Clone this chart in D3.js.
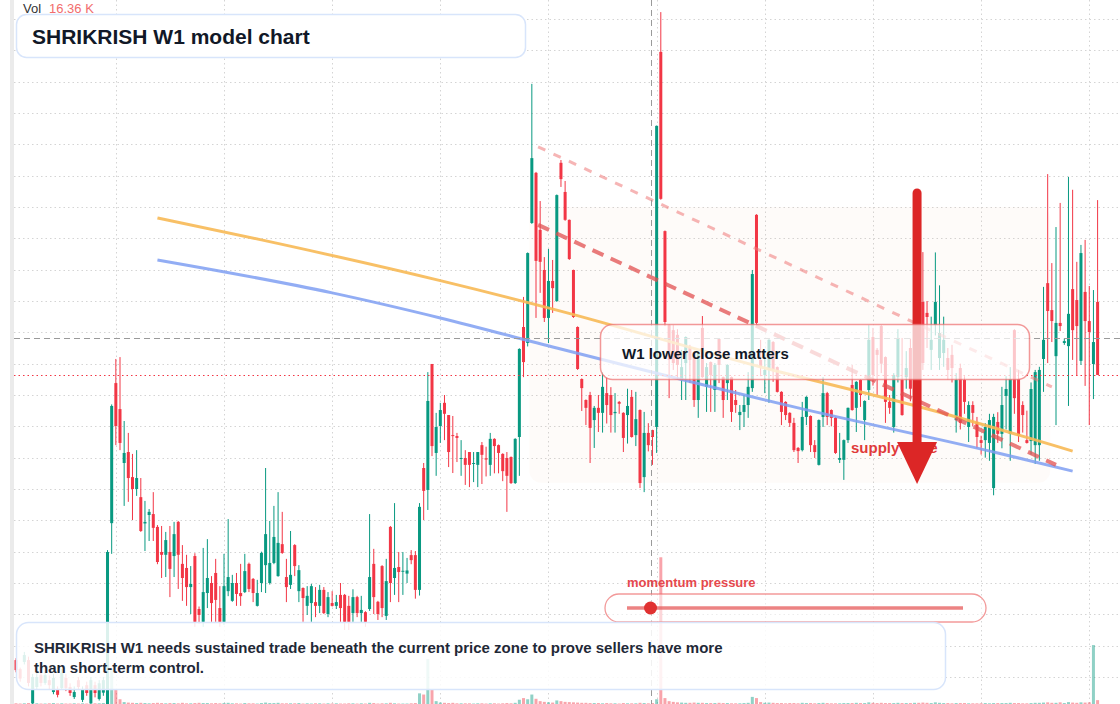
<!DOCTYPE html>
<html>
<head>
<meta charset="utf-8">
<script src="https://cdn.jsdelivr.net/npm/d3@7"></script>
<style>
  html, body { margin: 0; padding: 0; background: #ffffff; }
  svg { display: block; font-family: "Liberation Sans", Arial, sans-serif; }
</style>
</head>
<body>
<div id="chart"></div>
<script>
///////////////////////////// DATA (weekly candles, oldest first) /////////////////////////////

var opens = [25.4,22.5,24.8,25.4,11.7,16.8,20.6,18.1,19.0,15.2,15.9,16.5,19.7,16.8,13.6,19.0,12.7,17.4,11.7,17.4,13.0,15.0,
  10.0,69.1,113.8,105.5,88.3,91.8,83.8,80.0,77.4,69.0,71.7,72.0,67.9,59.9,59.0,59.9,58.6,69.5,56.1,54.8,48.7,58.6,41.7,
  37.6,46.8,50.0,53.2,42.0,37.6,47.4,44.3,50.0,46.8,47.1,56.1,51.3,42.7,50.0,55.7,50.0,56.4,52.2,62.4,51.9,49.4,62.1,47.4,
  48.4,42.7,43.6,43.9,42.7,47.8,40.1,43.6,42.7,46.2,46.2,42.7,40.4,45.5,40.4,40.7,41.7,56.1,44.0,55.4,39.5,67.9,51.6,55.1,
  53.6,53.0,58.9,58.9,47.8,86.7,79.7,119.9,91.5,100.1,107.5,103.6,97.2,96.9,89.6,89.9,91.8,88.0,87.7,94.0,89.8,87.7,96.0,
  94.0,91.2,89.9,90.2,81.9,96.6,131.7,126.6,164.9,180.9,162.7,149.9,134.6,146.4,140.0,184.1,174.8,165.9,149.9,131.7,115.1,
  108.4,110.0,102.0,105.9,104.3,110.6,110.0,104.2,107.8,104.3,103.6,109.4,97.2,105.2,83.8,97.9,98.8,99.8,219.5,162.3,132.3,
  130.7,129.2,114.8,120.2,125.3,123.4,108.4,131.4,112.6,120.5,111.6,127.9,115.7,113.8,115.7,108.4,103.6,104.6,106.8,112.2,
  167.5,121.2,116.4,118.0,126.9,118.9,111.0,107.8,104.3,101.1,93.1,92.4,103.0,103.3,94.0,87.7,103.0,110.6,105.2,102.7,89.3,
  89.3,95.6,113.2,105.9,114.8,102.0,111.6,128.5,124.4,132.0,122.1,107.8,99.8,115.7,114.8,115.7,125.0,112.0,130.0,139.7,
  136.2,124.4,132.3,121.8,123.4,121.8,122.8,102.0,118.6,114.8,99.8,106.8,101.4,95.6,95.6,94.7,80.3,101.4,97.6,109.7,97.6,
  130.7,115.1,106.8,95.6,95.3,94.0,94.0,121.5,145.7,137.1,122.4,133.0,126.6,125.6,143.8,140.3,120.9,142.9,133.6,119.9,139.7];

var highs = [26.0,23.0,28.0,26.5,21.0,21.5,22.0,22.0,20.5,21.0,17.0,22.5,21.0,18.0,17.0,20.0,17.0,18.5,20.0,18.5,19.0,20.0,
  60.5,107.0,121.5,122.1,101.7,97.9,91.2,92.4,83.5,76.2,73.6,79.0,68.5,68.2,66.3,68.2,69.5,69.8,62.1,59.0,55.4,59.5,42.5,
  61.2,64.0,52.2,57.7,49.0,59.3,70.4,52.6,53.2,56.1,59.3,56.5,51.6,51.0,60.0,86.7,69.8,74.6,79.0,72.7,57.7,66.6,62.4,55.7,
  48.6,49.0,49.7,48.7,49.4,48.7,47.1,47.4,46.2,50.0,46.5,45.9,48.0,45.9,45.9,41.0,72.0,60.9,44.3,55.7,57.7,68.2,75.5,59.9,
  59.9,58.0,60.5,60.2,75.5,88.3,117.3,119.9,104.3,107.5,110.0,103.6,103.3,97.9,95.6,92.4,91.8,91.8,91.8,95.0,93.5,97.9,96.2,
  94.2,91.4,91.8,90.4,96.2,124.9,141.3,155.5,209.3,181.2,171.9,154.0,156.6,153.1,174.0,185.0,178.3,166.0,150.0,131.9,115.3,
  108.6,111.0,106.5,110.0,117.3,115.7,112.5,110.6,108.1,104.5,112.0,111.6,111.0,105.4,104.6,101.0,98.9,196.0,232.2,162.5,132.5,
  132.3,131.0,124.4,128.7,126.0,123.6,123.6,135.2,120.2,120.7,120.2,128.1,115.9,119.8,115.9,111.6,106.8,110.0,117.3,149.9,
  167.7,127.6,124.4,127.8,127.2,119.1,111.2,108.0,104.5,102.7,93.4,107.8,109.6,103.5,95.6,102.2,115.7,111.0,105.4,103.0,97.9,
  95.8,106.0,119.6,114.4,115.0,108.3,132.3,131.4,125.0,132.3,122.3,110.0,117.0,131.0,128.2,124.0,128.0,133.0,140.0,155.6,
  140.0,135.0,155.5,145.0,135.0,125.0,126.0,117.0,120.0,116.0,108.0,108.0,103.0,97.0,101.0,104.0,104.0,104.5,112.6,116.0,118.9,
  131.0,118.0,108.0,105.0,114.0,118.0,119.0,144.5,180.5,152.1,163.6,171.3,128.0,179.6,175.5,152.5,157.9,159.5,144.8,143.5,172.2];

var lows = [21.5,18.5,24.0,17.0,11.0,16.0,17.0,17.5,16.0,14.5,13.5,16.0,15.5,14.0,13.0,16.0,12.0,14.0,11.4,13.5,12.5,14.0,
  9.5,59.3,94.0,92.4,74.6,75.9,70.1,77.8,66.3,60.2,63.4,63.4,56.0,51.6,51.9,45.5,51.9,48.1,44.3,42.7,40.1,36.0,37.0,
  36.0,42.0,37.6,37.6,36.0,36.6,45.8,44.0,42.7,42.7,46.8,47.1,43.9,42.5,47.1,46.8,49.5,56.0,52.0,59.3,43.9,48.1,52.2,43.9,
  37.6,39.8,37.6,39.1,40.4,40.1,39.1,42.5,41.7,37.6,35.0,35.0,37.6,39.1,37.6,36.0,41.1,40.1,38.2,39.1,38.2,43.9,46.2,43.9,
  46.2,50.0,56.0,45.0,46.0,70.1,73.3,90.5,84.2,94.7,95.6,87.0,85.1,88.6,84.2,81.3,80.6,82.2,80.6,81.6,84.0,84.2,85.0,
  85.0,82.5,72.7,81.6,81.6,84.2,115.7,125.5,164.6,134.6,142.6,133.3,126.6,136.2,139.7,176.4,165.6,153.1,134.6,118.0,104.9,
  100.4,88.3,93.1,98.2,98.0,100.9,98.0,98.0,104.0,91.8,94.5,96.4,93.7,80.3,79.0,92.0,87.7,91.5,172.3,132.0,109.0,
  118.0,115.0,108.4,108.4,113.8,106.2,102.7,115.5,104.6,104.6,104.6,113.8,102.7,108.4,101.4,104.3,98.8,99.8,102.7,111.0,
  132.3,116.0,110.6,107.5,114.2,110.8,100.4,102.0,99.8,91.8,88.3,92.0,100.4,91.8,89.9,87.5,99.8,100.4,100.0,91.2,88.3,
  82.9,94.7,105.0,98.2,106.2,95.6,108.4,113.0,110.0,117.0,101.1,104.0,98.0,114.0,103.4,112.0,108.0,108.0,110.0,118.0,
  125.0,118.0,129.0,118.0,119.0,115.0,114.0,98.0,99.0,104.0,95.0,100.0,93.0,91.0,90.0,89.0,78.0,94.7,93.0,99.0,89.0,
  104.0,95.0,98.0,94.5,91.0,88.0,89.0,111.0,120.2,126.9,100.4,130.4,126.0,106.5,121.2,116.1,119.6,112.9,100.4,108.7,116.4];

var closes = [22.2,19.5,27.0,18.1,20.0,20.0,18.1,20.6,17.4,19.7,14.3,21.3,16.5,14.9,15.2,16.8,15.9,14.9,19.0,14.9,18.0,19.0,
  59.9,106.5,100.1,94.7,91.5,83.5,80.0,83.5,66.6,69.5,72.7,67.6,56.7,59.0,63.7,54.5,65.6,59.0,51.6,48.7,49.7,37.6,39.8,
  47.1,51.6,43.6,44.6,37.6,49.0,51.9,50.0,46.5,45.8,53.8,48.1,46.8,46.8,59.6,65.6,56.4,64.7,62.8,59.6,48.7,52.6,55.4,54.1,
  45.2,45.9,49.0,42.7,47.8,40.4,45.5,42.7,43.9,42.0,37.6,37.6,45.5,40.4,41.4,37.6,51.9,45.5,40.1,42.0,50.6,50.0,54.8,53.5,
  53.9,54.0,57.3,47.8,74.3,79.4,108.1,93.7,99.8,105.2,104.0,91.8,96.9,96.3,89.9,87.7,87.7,88.3,91.8,90.9,89.4,96.0,93.7,
  91.5,85.7,84.2,81.9,96.0,124.7,120.5,155.3,185.6,152.8,152.5,134.6,146.4,144.1,173.8,178.9,165.9,153.4,134.9,118.3,112.2,
  105.9,99.5,105.9,104.3,112.6,106.8,103.6,104.6,107.2,96.3,106.5,96.6,102.3,81.9,97.9,94.0,96.6,195.9,172.6,133.3,121.2,
  120.2,119.6,118.9,128.5,121.2,108.4,123.4,115.7,118.9,116.4,119.6,119.6,108.4,119.6,104.6,106.8,104.6,106.8,112.6,148.6,
  133.0,118.9,118.0,127.6,118.0,111.0,104.6,103.6,101.1,92.4,92.1,103.0,109.4,94.0,91.8,102.0,110.6,103.0,102.7,91.5,89.9,
  95.6,105.9,105.2,114.2,110.0,108.1,127.6,116.4,122.8,120.0,107.8,105.9,116.4,128.2,103.6,118.6,112.0,125.0,118.0,120.2,
  134.9,127.6,139.7,129.8,127.6,118.0,118.6,114.8,101.1,107.8,106.8,104.3,96.6,94.7,99.8,102.0,103.0,97.6,106.8,111.9,115.1,
  109.0,96.9,103.6,94.7,111.9,117.3,118.0,127.6,136.8,133.6,133.0,132.0,127.2,135.9,130.7,132.0,155.3,133.6,130.1,126.9,116.4];

// volume in thousands of shares
var volumes = [3,2,3,4,5,3,2,2,3,4,2,3,2,2,3,2,3,2,4,3,3,4,
  210,150,60,20,
  8,6,5,4,5,4,3,4,5,4,3,4,4,3,5,3,3,4,5,4,
  4,3,4,3,4,5,3,3,2,4,3,3,2,4,6,4,4,5,3,3,3,3,4,2,3,2,3,3,2,3,2,3,2,2,3,3,2,3,2,5,4,2,3,3,5,3,2,2,2,3,4,
  45,40,190,
  60,12,6,5,4,5,3,3,3,3,2,3,3,2,3,3,2,3,4,3,5,
  18,25,20,40,
  22,12,9,7,6,15,12,9,8,7,6,5,5,4,4,4,3,4,3,3,2,4,3,3,3,5,4,3,4,
  20,620,
  25,12,9,7,6,5,5,6,5,5,4,4,4,5,4,4,3,3,3,4,
  5,30,25,
  8,5,6,5,4,4,3,4,4,3,5,4,4,3,4,5,4,3,3,3,4,4,
  4,5,4,4,7,5,4,5,4,4,4,5,4,4,4,5,5,6,5,4,7,5,4,4,3,4,4,4,3,3,
  3,3,4,3,4,4,4,4,5,4,4,3,3,4,5,5,6,7,5,5,7,4,8,6,5,7,6,7,
  249,16.36];

// model curves: [candle index, price]
var orangeModel = [[34,166.5],[59,159.5],[102,146.5],[130,137.1],[180,118.6],[220,105.2],[254,92.1]];
var blueModel = [[34,153.1],[76,142.6],[102,134.6],[130,125.0],[188,105.9],[236,91.5],[254,85.7]];

// dashed resistance lines: [candle index, price]
var upperTrend = [[125.5,189.2],[249,112.6]];
var lowerTrend = [[125.5,164.3],[250,87.7]];

// supply zone: [from index, to index, top price, bottom price]
var supplyZone = [123.4, 248.6, 170, 82];
// arrow: [index, start price, head price, tip price]
var supplyArrow = [216.6, 174.5, 95, 81.6];

var priceGrid = d3.range(20, 231, 10);
var timeGrid = [24, 50, 76, 102, 128, 154, 180, 206, 232, 258];
var crosshair = [153, 128.2];          // index, price
var momentumValue = 0.07;              // 0..1 position in the pressure gauge

var titleText = "SHRIKRISH W1 model chart";
var noteText = "W1 lower close matters";
var bottomLines = ["SHRIKRISH W1 needs sustained trade beneath the current price zone to prove sellers have more",
  "than short-term control."];

///////////////////////////// SETUP /////////////////////////////

var width = 1120, height = 704;
var upColor = "#089981", downColor = "#f23645";

var svg = d3.select("#chart").append("svg")
    .attr("width", width)
    .attr("height", height);

var n = opens.length;
var x = d3.scaleLinear().domain([0, n - 1]).range([16, 1097.6]);
var y = d3.scaleLinear().domain([20, 230]).range([677, 19]);
var v = d3.scaleLinear().domain([0, 600]).range([704, 562]);

var candles = d3.range(n).map(function(i) {
    return {i: i, o: opens[i], h: highs[i], l: lows[i], c: closes[i], vol: volumes[i]};
});

svg.append("rect").attr("width", width).attr("height", height).attr("fill", "#ffffff");

// left scale edge
svg.append("rect").attr("x", 10).attr("y", 0).attr("width", 4).attr("height", height).attr("fill", "#ebebeb");

///////////////////////////// GRID /////////////////////////////

var grid = svg.append("g").attr("class", "grid");
grid.selectAll("line.h").data(priceGrid).enter().append("line")
    .attr("class", "h")
    .attr("x1", 14).attr("x2", width)
    .attr("y1", function(d) { return Math.round(y(d)) + 0.5; })
    .attr("y2", function(d) { return Math.round(y(d)) + 0.5; })
    .attr("stroke", "#d4d4d4").attr("stroke-dasharray", "1.5,3");

grid.selectAll("line.v").data(timeGrid).enter().append("line")
    .attr("class", "v")
    .attr("x1", function(d) { return Math.round(x(d)) + 0.5; })
    .attr("x2", function(d) { return Math.round(x(d)) + 0.5; })
    .attr("y1", 0).attr("y2", height)
    .attr("stroke", "#d4d4d4").attr("stroke-dasharray", "1.5,3");

// supply zone shading
svg.append("rect")
    .attr("x", x(supplyZone[0]))
    .attr("width", x(supplyZone[1]) - x(supplyZone[0]))
    .attr("y", y(supplyZone[2]))
    .attr("height", y(supplyZone[3]) - y(supplyZone[2]))
    .attr("rx", 12)
    .attr("fill", "rgba(236,190,160,0.06)");

///////////////////////////// VOLUME /////////////////////////////

svg.append("g").selectAll("rect").data(candles).enter().append("rect")
    .attr("x", function(d) { return x(d.i) - 1.5; })
    .attr("width", 3)
    .attr("y", function(d) { return v(d.vol); })
    .attr("height", function(d) { return v(0) - v(d.vol); })
    .attr("fill", function(d) { return d.c >= d.o ? "rgba(8,153,129,0.45)" : "rgba(242,54,69,0.45)"; });

///////////////////////////// CANDLES /////////////////////////////

var cg = svg.append("g").attr("class", "candles");
cg.selectAll("line").data(candles).enter().append("line")
    .attr("x1", function(d) { return x(d.i); })
    .attr("x2", function(d) { return x(d.i); })
    .attr("y1", function(d) { return y(d.h); })
    .attr("y2", function(d) { return y(d.l); })
    .attr("stroke", function(d) { return d.c >= d.o ? upColor : downColor; })
    .attr("stroke-width", 1);

cg.selectAll("rect").data(candles).enter().append("rect")
    .attr("x", function(d) { return x(d.i) - 1.5; })
    .attr("width", 3)
    .attr("y", function(d) { return y(Math.max(d.o, d.c)); })
    .attr("height", function(d) { return Math.max(1, Math.abs(y(d.o) - y(d.c))); })
    .attr("fill", function(d) { return d.c >= d.o ? upColor : downColor; });

///////////////////////////// MODEL LINES /////////////////////////////

var modelLine = d3.line()
    .x(function(d) { return x(d[0]); })
    .y(function(d) { return y(d[1]); })
    .curve(d3.curveMonotoneX);

svg.append("path").datum(orangeModel)
    .attr("d", modelLine)
    .attr("fill", "none").attr("stroke", "#f7b955").attr("stroke-opacity", 0.9)
    .attr("stroke-width", 3);

svg.append("path").datum(blueModel)
    .attr("d", modelLine)
    .attr("fill", "none").attr("stroke", "#7f9ff2").attr("stroke-opacity", 0.85)
    .attr("stroke-width", 3);

var straight = d3.line().x(function(d) { return x(d[0]); }).y(function(d) { return y(d[1]); });

svg.append("path").datum(upperTrend)
    .attr("d", straight)
    .attr("fill", "none").attr("stroke", "rgba(238,120,120,0.55)")
    .attr("stroke-width", 3).attr("stroke-dasharray", "8,9");

svg.append("path").datum(lowerTrend)
    .attr("d", straight)
    .attr("fill", "none").attr("stroke", "rgba(226,80,80,0.75)")
    .attr("stroke-width", 4).attr("stroke-dasharray", "12,8");

///////////////////////////// PRICE LINE + CROSSHAIR /////////////////////////////

var lastY = Math.round(y(closes[n - 1])) + 0.5;
svg.append("line")
    .attr("x1", 14).attr("x2", width).attr("y1", lastY).attr("y2", lastY)
    .attr("stroke", downColor).attr("stroke-width", 1).attr("stroke-dasharray", "1.5,3");

var chY = Math.round(y(crosshair[1])) + 0.5, chX = Math.round(x(crosshair[0])) - 0.5;
svg.append("line")
    .attr("x1", 14).attr("x2", width).attr("y1", chY).attr("y2", chY)
    .attr("stroke", "#9a9a9a").attr("stroke-dasharray", "6,4");
svg.append("line")
    .attr("x1", chX).attr("x2", chX).attr("y1", 0).attr("y2", height)
    .attr("stroke", "#9a9a9a").attr("stroke-dasharray", "6,4");

///////////////////////////// ANNOTATIONS /////////////////////////////

svg.append("text")
    .attr("x", 851).attr("y", 453)
    .attr("fill", "#e03a3a").attr("font-size", 15).attr("font-weight", "bold")
    .text("supply zone");

var ax = x(supplyArrow[0]);
svg.append("line")
    .attr("x1", ax).attr("x2", ax)
    .attr("y1", y(supplyArrow[1])).attr("y2", y(supplyArrow[2]) + 2)
    .attr("stroke", "#dc2626").attr("stroke-width", 9).attr("stroke-linecap", "round");
svg.append("path")
    .attr("d", "M" + (ax - 20) + "," + y(supplyArrow[2]) + "L" + (ax + 20) + "," + y(supplyArrow[2]) +
        "L" + ax + "," + y(supplyArrow[3]) + "Z")
    .attr("fill", "#dc2626");

// W1 note box
svg.append("rect")
    .attr("x", 600.5).attr("y", 324.5).attr("width", 429).attr("height", 55).attr("rx", 12)
    .attr("fill", "rgba(255,255,255,0.72)")
    .attr("stroke", "rgba(236,110,110,0.7)").attr("stroke-width", 1.5);
svg.append("text")
    .attr("x", 622).attr("y", 359)
    .attr("fill", "#111827").attr("font-size", 15).attr("font-weight", "bold")
    .text(noteText);

// momentum gauge
var m = d3.scaleLinear().domain([0, 1]).range([627, 963]);
svg.append("text")
    .attr("x", 627).attr("y", 587)
    .attr("fill", "#e5484d").attr("font-size", 13).attr("font-weight", "bold")
    .text("momentum pressure");
svg.append("rect")
    .attr("x", 605).attr("y", 594).attr("width", 381).attr("height", 28).attr("rx", 14)
    .attr("fill", "rgba(255,255,255,0.55)")
    .attr("stroke", "rgba(236,110,110,0.7)").attr("stroke-width", 1.3);
svg.append("line")
    .attr("x1", m(0)).attr("x2", m(1)).attr("y1", 608).attr("y2", 608)
    .attr("stroke", "rgba(230,90,90,0.75)").attr("stroke-width", 3.5);
svg.append("circle")
    .attr("cx", m(momentumValue)).attr("cy", 608).attr("r", 6.5)
    .attr("fill", "#e03131");

// title box
svg.append("rect")
    .attr("x", 16.5).attr("y", 14.5).attr("width", 509).attr("height", 43).attr("rx", 10)
    .attr("fill", "#ffffff").attr("stroke", "#d8e5fb").attr("stroke-width", 1.5);
svg.append("text")
    .attr("x", 32).attr("y", 43.5)
    .attr("fill", "#111827").attr("font-size", 21).attr("font-weight", "bold")
    .text(titleText);

// bottom explanation box
svg.append("rect")
    .attr("x", 16.5).attr("y", 622.5).attr("width", 929).attr("height", 67).attr("rx", 12)
    .attr("fill", "rgba(255,255,255,0.86)").attr("stroke", "#d8e5fb").attr("stroke-width", 1.5);
svg.append("g").selectAll("text").data(bottomLines).enter().append("text")
    .attr("x", 34)
    .attr("y", function(d, i) { return 653 + i * 20; })
    .attr("fill", "#1f2937").attr("font-size", 15).attr("font-weight", "bold")
    .text(function(d) { return d; });

// volume legend
var legend = svg.append("text").attr("x", 23).attr("y", 13).attr("font-size", 13);
legend.append("tspan").attr("fill", "#333333").text("Vol");
legend.append("tspan").attr("x", 49).attr("fill", "#f26d6d")
    .text(d3.format(".2f")(volumes[n - 1]) + " K");
</script>
</body>
</html>
